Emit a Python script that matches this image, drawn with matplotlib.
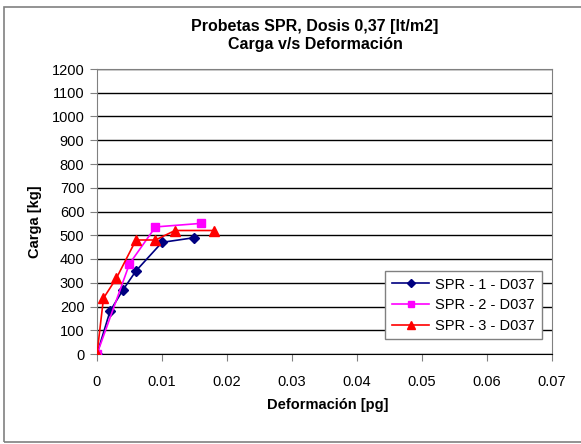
import matplotlib
matplotlib.use("Agg")
import matplotlib.pyplot as plt
from matplotlib.patches import Rectangle

plt.rcParams['font.family'] = ['Liberation Sans', 'DejaVu Sans']

# deformacion [pg] / carga [kg]
x1 = [0, 0.002, 0.004, 0.006, 0.010, 0.015]
y1 = [0, 180, 270, 350, 470, 490]
x2 = [0, 0.005, 0.009, 0.016]
y2 = [0, 380, 535, 550]
x3 = [0, 0.001, 0.003, 0.006, 0.009, 0.012, 0.018]
y3 = [0, 235, 320, 480, 480, 520, 520]
labels = ["SPR - 1 - D037", "SPR - 2 - D037", "SPR - 3 - D037"]

W, H = 581, 444
fig = plt.figure(figsize=(W/100, H/100), dpi=100)
ax = fig.add_axes([97/W, 1-354/H, (552-97)/W, (354-69)/H])

fig.patches.append(Rectangle((4/W, 2/H), 1.0, 435/H, transform=fig.transFigure,
                             fill=False, edgecolor="#808080", lw=1.2))

ax.plot(x1, y1, color="#000080", marker="D", markersize=5, lw=1.2, label=labels[0], zorder=3)
ax.plot(x2, y2, color="#FF00FF", marker="s", markersize=6, lw=1.2, label=labels[1], zorder=3)
ax.plot(x3, y3, color="#FF0000", marker="^", markersize=7, lw=1.2, label=labels[2], zorder=4)

ax.set_xlim(0, 0.07)
ax.set_ylim(0, 1200)
ax.set_xticks([0, 0.01, 0.02, 0.03, 0.04, 0.05, 0.06, 0.07])
ax.set_xticklabels(["0", "0.01", "0.02", "0.03", "0.04", "0.05", "0.06", "0.07"])
ax.set_yticks(range(0, 1201, 100))
ax.yaxis.grid(True, color="black", lw=1)
ax.set_axisbelow(True)
ax.tick_params(labelsize=10.5, length=5, color="#808080", pad=4)
ax.tick_params(axis="x", pad=10)
for s in ["left", "top", "right"]:
    ax.spines[s].set_color("#808080")
ax.spines["bottom"].set_color("black")

fig.text(328/W, 1-405/H, "Deformación [pg]", ha="center", va="center",
         fontsize=10.5, fontweight="bold")
fig.text(35/W, 1-222/H, "Carga [kg]", ha="center", va="center", rotation=90,
         fontsize=10.5, fontweight="bold")
fig.text(315/W, 1-35/H, "Probetas SPR, Dosis 0,37 [lt/m2]\nCarga v/s Deformación",
         ha="center", va="center", fontsize=11.5, fontweight="bold", linespacing=1.25)

leg = ax.legend(loc="upper left", bbox_to_anchor=((385-97)/455, (354-271)/285),
                fontsize=10.5, frameon=True, fancybox=False, borderpad=0.45,
                handlelength=2.6, handletextpad=0.4, labelspacing=0.45,
                borderaxespad=0, markerscale=0.8)
leg.get_frame().set_edgecolor("#808080")
leg.get_frame().set_alpha(1)

fig.savefig("out.png", dpi=100)
